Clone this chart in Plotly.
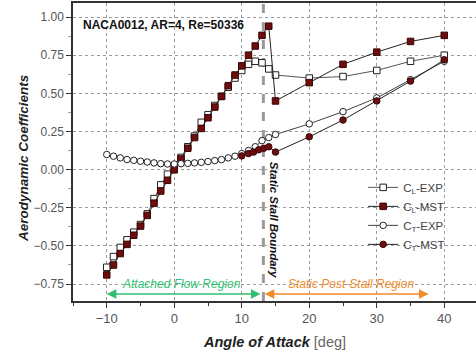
import plotly.graph_objects as go

# ---------------- data ----------------
aoa_cl_exp = [-10, -9, -8, -7, -6, -5, -4, -3, -2, -1, 0, 1, 2, 3, 4, 5, 6, 7, 8, 9, 10,
              11, 12, 13, 14, 15, 20, 25, 30, 35, 40]
cl_exp = [-0.64, -0.57, -0.51, -0.46, -0.41, -0.36, -0.29, -0.19, -0.10, -0.03, 0.00,
          0.08, 0.15, 0.22, 0.31, 0.36, 0.42, 0.48, 0.54, 0.60, 0.65,
          0.69, 0.71, 0.70, 0.66, 0.62, 0.60, 0.61, 0.65, 0.71, 0.75]

aoa_cl_mst = [-10, -9, -8, -7, -6, -5, -4, -3, -2, -1, 0, 1, 2, 3, 4, 5, 6, 7, 8, 9, 10,
              11, 12, 13, 14, 15, 20, 25, 30, 35, 40]
cl_mst = [-0.69, -0.625, -0.55, -0.49, -0.43, -0.37, -0.30, -0.22, -0.14, -0.07, 0.00,
          0.07, 0.14, 0.21, 0.27, 0.34, 0.41, 0.48, 0.55, 0.62, 0.68,
          0.75, 0.81, 0.88, 0.94, 0.45, 0.57, 0.69, 0.77, 0.84, 0.88]

aoa_ct_exp = [-10, -9, -8, -7, -6, -5, -4, -3, -2, -1, 0, 1, 2, 3, 4, 5, 6, 7, 8, 9, 10,
              11, 12, 13, 14, 15, 20, 25, 30, 35, 40]
ct_exp = [0.099, 0.088, 0.077, 0.066, 0.061, 0.055, 0.050, 0.044, 0.039, 0.037, 0.037,
          0.039, 0.041, 0.044, 0.048, 0.053, 0.059, 0.066, 0.077, 0.088, 0.105,
          0.125, 0.15, 0.19, 0.21, 0.23, 0.30, 0.38, 0.47, 0.59, 0.71]

aoa_ct_mst = [10, 11, 11.75, 12.5, 13.25, 14, 15, 20, 25, 30, 35, 40]
ct_mst = [0.09, 0.105, 0.115, 0.13, 0.14, 0.15, 0.115, 0.215, 0.325, 0.45, 0.58, 0.72]

stall_angle = 13.2
attached_region = [-10, 13.0]
post_stall_region = [13.4, 37.9]

x_ticks = [-10, 0, 10, 20, 30, 40]
y_ticks = [-0.75, -0.5, -0.25, 0.0, 0.25, 0.5, 0.75, 1.0]

# ---------------- styles ----------------
MAROON = "#6e0d0d"
FONT = "Liberation Sans, Arial, sans-serif"

fig = go.Figure()

fig.add_trace(go.Scatter(
    x=aoa_cl_exp, y=cl_exp, mode="lines+markers", name="C<sub>L</sub>-EXP",
    line=dict(color="#555555", width=1),
    marker=dict(symbol="square", size=6.5, color="white", line=dict(color="#222222", width=1))))
fig.add_trace(go.Scatter(
    x=aoa_cl_mst, y=cl_mst, mode="lines+markers", name="C<sub>L</sub>-MST",
    line=dict(color="#222222", width=1),
    marker=dict(symbol="square", size=6.5, color=MAROON, line=dict(color="#3a0505", width=1))))
fig.add_trace(go.Scatter(
    x=aoa_ct_exp, y=ct_exp, mode="lines+markers", name="C<sub>T</sub>-EXP",
    line=dict(color="#444444", width=1),
    marker=dict(symbol="circle", size=6.5, color="white", line=dict(color="#222222", width=1))))
fig.add_trace(go.Scatter(
    x=aoa_ct_mst, y=ct_mst, mode="lines+markers", name="C<sub>T</sub>-MST",
    line=dict(color="#222222", width=1),
    marker=dict(symbol="circle", size=6.5, color=MAROON, line=dict(color="#3a0505", width=1))))

# stall boundary line
fig.add_shape(type="line", xref="x", yref="paper", x0=stall_angle, x1=stall_angle, y0=0, y1=1,
              line=dict(color="#9a9a9a", width=3, dash="dash"), layer="below")

# region arrows
fig.add_annotation(x=attached_region[0], y=-0.815, ax=attached_region[1], ay=-0.815,
                   xref="x", yref="y", axref="x", ayref="y", text="", showarrow=True,
                   arrowhead=2, arrowside="end+start", arrowsize=1.2, arrowwidth=1.6,
                   arrowcolor="#2fbf71", font=dict(size=10))
fig.add_annotation(x=post_stall_region[0], y=-0.815, ax=post_stall_region[1], ay=-0.815,
                   xref="x", yref="y", axref="x", ayref="y", text="", showarrow=True,
                   arrowhead=2, arrowside="end+start", arrowsize=1.2, arrowwidth=1.6,
                   arrowcolor="#f08a2a", font=dict(size=10))
fig.add_annotation(x=sum(attached_region) / 2 - 0.5, y=-0.75, xref="x", yref="y",
                   text="<i>Attached Flow Region</i>", showarrow=False,
                   font=dict(family=FONT, size=12, color="#2fbf71"))
fig.add_annotation(x=sum(post_stall_region) / 2 + 0.5, y=-0.75, xref="x", yref="y",
                   text="<i>Static Post-Stall Region</i>", showarrow=False,
                   font=dict(family=FONT, size=12, color="#f08a2a"))

# stall text
fig.add_annotation(x=stall_angle + 1.6, y=-0.33, xref="x", yref="y",
                   text="<b><i>Static Stall Boundary</i></b>", showarrow=False, textangle=90,
                   bgcolor="rgba(255,255,255,0.55)",
                   font=dict(family=FONT, size=11.5, color="#111111"))

# title inside plot
fig.add_annotation(x=0.02, y=0.955, xref="paper", yref="paper", xanchor="left",
                   text="<b>NACA0012, AR=4, Re=50336</b>", showarrow=False,
                   font=dict(family=FONT, size=12, color="#111111"))

# axis titles
fig.add_annotation(x=0.5, y=-0.137, xref="paper", yref="paper", yanchor="middle",
                   text="<b><i>Angle of Attack</i></b> <span style='color:#666'>[deg]</span>",
                   showarrow=False, font=dict(family=FONT, size=14.5, color="#222222"))
fig.add_annotation(x=-0.145, y=0.48, xref="paper", yref="paper", textangle=-90,
                   text="<b><i>Aerodynamic Coefficients</i></b>", showarrow=False,
                   font=dict(family=FONT, size=13.5, color="#222222"))

fig.update_layout(
    width=476, height=357,
    margin=dict(l=73, r=0, t=3, b=56),
    paper_bgcolor="white", plot_bgcolor="white",
    font=dict(family=FONT, size=12, color="#555555"),
    showlegend=True,
    legend=dict(x=0.72, y=0.43, xanchor="left", yanchor="top",
                bgcolor="rgba(0,0,0,0)", tracegroupgap=0,
                font=dict(family=FONT, size=11.5, color="#444444")),
)
fig.update_xaxes(range=[-15, 44.7], tickvals=x_ticks, ticks="outside", ticklen=5,
                 tickcolor="#333", showline=True, linecolor="#333", linewidth=1.5, mirror=True,
                 showgrid=True, gridcolor="#9a9a9a", griddash="dot", gridwidth=1, zeroline=False,
                 minor=dict(dtick=5, tick0=0, ticks="outside", ticklen=3, tickcolor="#333",
                            showgrid=False),
                 tickfont=dict(size=13, color="#555555"))
fig.update_yaxes(range=[-0.861, 1.092], tickvals=y_ticks, tickformat=".2f", ticks="outside",
                 ticklen=5, tickcolor="#333", showline=True, linecolor="#333", linewidth=1.5,
                 showgrid=True, gridcolor="#9a9a9a", griddash="dot", gridwidth=1, zeroline=False,
                 minor=dict(dtick=0.125, tick0=0, ticks="outside", ticklen=3, tickcolor="#999",
                            showgrid=False),
                 tickfont=dict(size=12, color="#555555"))

fig.write_html("out.html")
